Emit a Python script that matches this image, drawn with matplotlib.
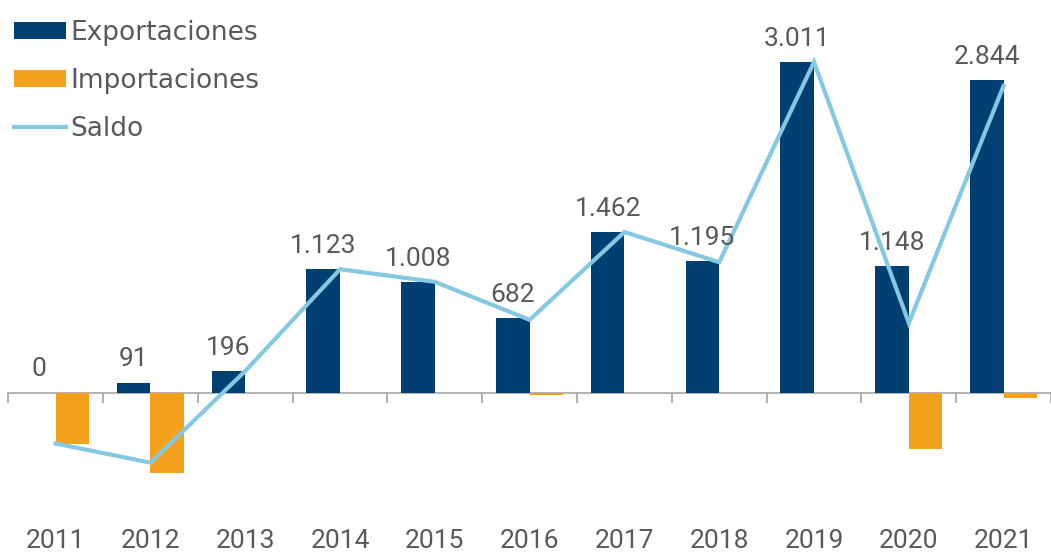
import matplotlib
matplotlib.use("Agg")
import matplotlib.pyplot as plt
import matplotlib.transforms as mtransforms
import numpy as np

years = ["2011", "2012", "2013", "2014", "2015", "2016", "2017", "2018", "2019", "2020", "2021"]
exportaciones = [0, 91, 196, 1123, 1008, 682, 1462, 1195, 3011, 1148, 2844]
importaciones = [-465, -730, 0, 0, 0, -20, 0, -8, 0, -515, -50]
saldo = [e + i for e, i in zip(exportaciones, importaciones)]

C_EXP = "#003F72"
C_IMP = "#F4A21D"
C_SAL = "#84C8E2"
C_TXT = "#595959"
C_AX = "#A6A6A6"

plt.rcParams["font.family"] = ["Roboto", "DejaVu Sans"]
FS = 19

fig = plt.figure(figsize=(10.51, 5.53), dpi=100)
W, H = 1051, 553
ax = fig.add_axes([8.3 / W, 0, 1 - 8.3 / W, 1])

x = np.arange(len(years))
bw = 0.355
b1 = ax.bar(x - bw / 2, exportaciones, bw, color=C_EXP, label="Exportaciones", zorder=2)
b2 = ax.bar(x + bw / 2, importaciones, bw, color=C_IMP, label="Importaciones", zorder=2)
l1, = ax.plot(x, saldo, color=C_SAL, lw=3.0, label="Saldo", zorder=3, solid_joinstyle="miter")

for xi, v in zip(x, exportaciones):
    lbl = f"{v:,}".replace(",", ".")
    ax.annotate(lbl, (xi - bw / 2, v), xytext=(0, 8), textcoords="offset points",
                ha="center", va="bottom", fontsize=FS, color=C_TXT)

ax.set_xlim(-0.5, -0.5 + (W - 8.3) / 95.84)
px_per_unit = (392.5 - 62) / 3011
ax.set_ylim(-(H - 392.5) / px_per_unit, 392.5 / px_per_unit)

for s in ["top", "right", "left"]:
    ax.spines[s].set_visible(False)
ax.spines["bottom"].set_position(("data", 0))
ax.spines["bottom"].set_color(C_AX)
ax.spines["bottom"].set_linewidth(1.2)
ax.spines["bottom"].set_zorder(1)
ax.set_yticks([])
ax.set_xticks(np.arange(len(years) + 1) - 0.5)
ax.set_xticklabels([])
ax.tick_params(axis="x", direction="out", length=7, width=1.2, color=C_AX)

trans = mtransforms.blended_transform_factory(ax.transData, ax.transAxes)
for xi, y in zip(x, years):
    ax.text(xi, (H - 541.5) / H, y, transform=trans, ha="center", va="center",
            fontsize=FS, color=C_TXT)

leg = fig.legend([b1, b2, l1], ["Exportaciones", "Importaciones", "Saldo"],
                 loc="upper left", bbox_to_anchor=(14 / W, 1 - 20 / H),
                 bbox_transform=fig.transFigure, frameon=False,
                 prop={"family": ["DejaVu Sans"], "size": FS},
                 handlelength=1.97, handleheight=0.6, handletextpad=0.15,
                 labelspacing=0.84, borderpad=0, borderaxespad=0)
for t in leg.get_texts():
    t.set_color(C_TXT)

fig.savefig("out.png", dpi=100)
